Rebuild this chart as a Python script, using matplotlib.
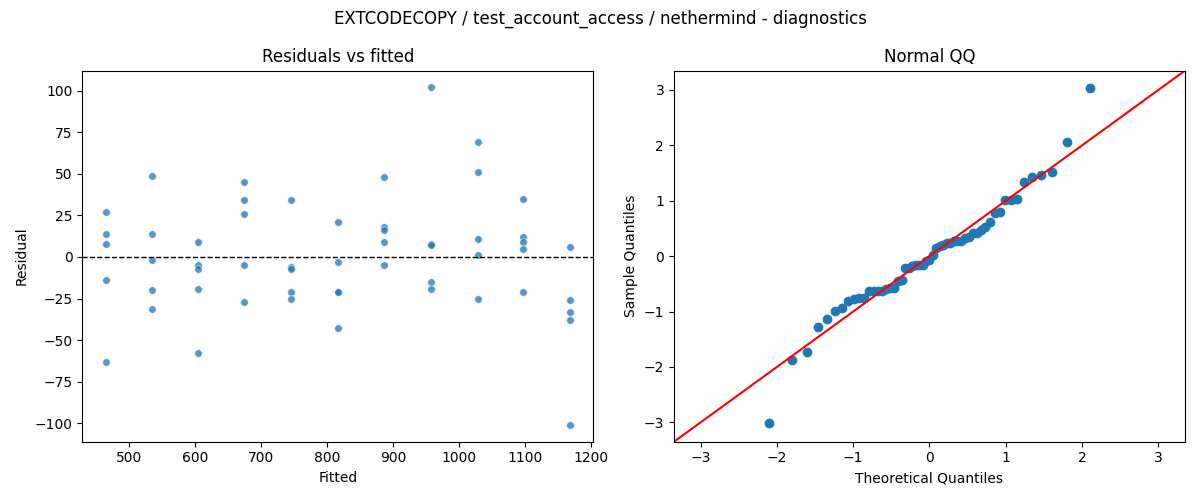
import numpy as np
import matplotlib
matplotlib.use("Agg")
import matplotlib.pyplot as plt
from statistics import NormalDist

fitted_levels = [465, 535, 605, 675, 745, 817, 887, 958, 1028, 1097, 1168]
residuals = [
    [27, 14, 8, -14, -63],
    [49, 14, -2, -20, -31],
    [9, -5, -7, -19, -58],
    [45, 34, 26, -5, -27],
    [34, -6, -7, -21, -25],
    [21, -3, -21, -21, -43],
    [48, 18, 16, 9, -5],
    [102, 8, 7, -15, -19],
    [69, 51, 11, 1, -25],
    [35, 12, 9, 5, -21],
    [6, -26, -33, -38, -101],
]

x = np.concatenate([[f] * len(r) for f, r in zip(fitted_levels, residuals)])
y = np.concatenate(residuals).astype(float)

fig, (ax1, ax2) = plt.subplots(1, 2, figsize=(12, 5), dpi=100)
fig.suptitle("EXTCODECOPY / test_account_access / nethermind - diagnostics")

ax1.scatter(x, y, color="C0", alpha=0.75, s=30, edgecolors="white", linewidths=0.5)
ax1.axhline(0, color="black", linestyle="--", linewidth=1)
ax1.set_title("Residuals vs fitted")
ax1.set_xlabel("Fitted")
ax1.set_ylabel("Residual")

n = len(y)
z = (np.sort(y) - y.mean()) / y.std(ddof=1)
nd = NormalDist()
theo = np.array([nd.inv_cdf(i / (n + 1)) for i in range(1, n + 1)])
ax2.plot(theo, z, "o", color="C0", markersize=6)
ax2.set_xlim(-3.35, 3.35)
ax2.set_ylim(-3.35, 3.35)
ax2.plot([-3.35, 3.35], [-3.35, 3.35], color="red")
ax2.set_title("Normal QQ")
ax2.set_xlabel("Theoretical Quantiles")
ax2.set_ylabel("Sample Quantiles")

fig.tight_layout()
fig.savefig("out.png")
